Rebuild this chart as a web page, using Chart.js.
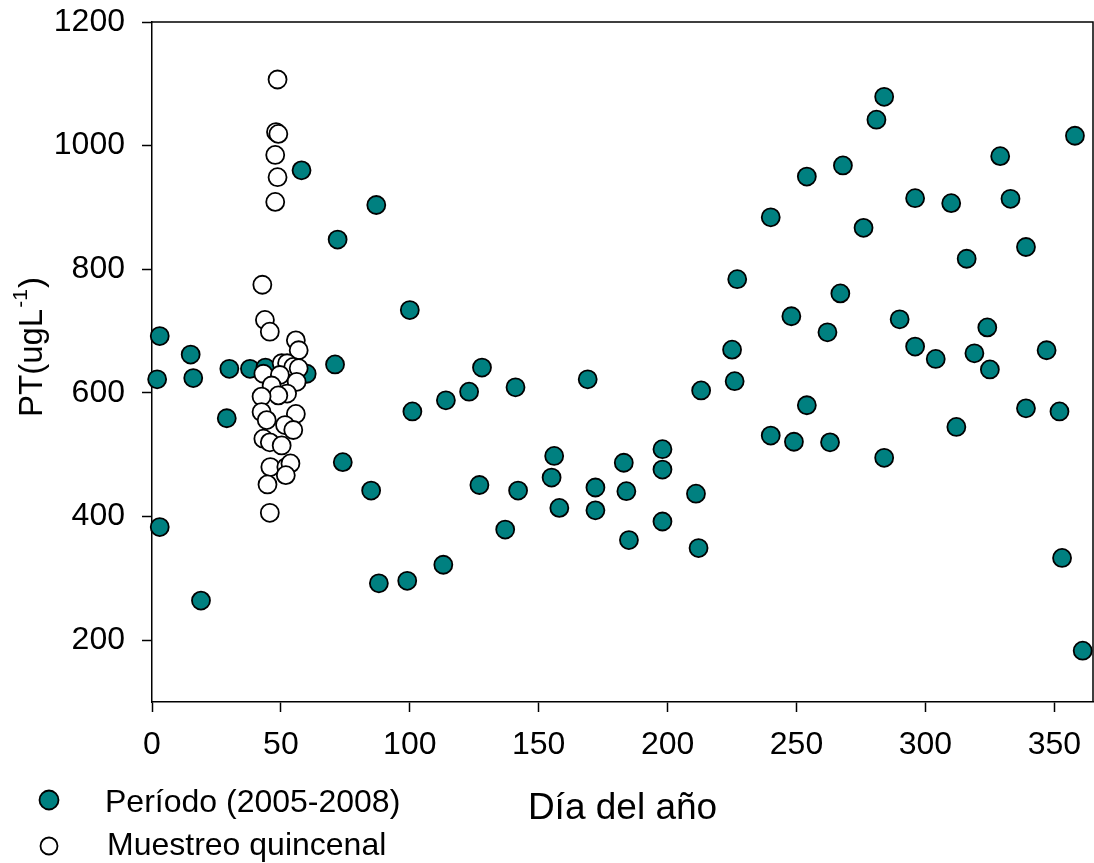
<!DOCTYPE html>
<html>
<head>
<meta charset="utf-8">
<script src="https://cdn.jsdelivr.net/npm/chart.js@4.4.0/dist/chart.umd.min.js"></script>
<style>
  html, body { margin: 0; padding: 0; background: #ffffff; }
  #wrap { width: 1094px; height: 863px; position: relative; }
</style>
</head>
<body>
<div id="wrap"><canvas id="c" width="1094" height="863"></canvas></div>
<script>
// ---- Data ----
const periodoDay = [2, 3, 3, 15, 16, 19, 29, 30, 38, 44, 58, 60, 71, 72, 74, 85, 87, 88, 99, 100,
  101, 113, 114, 123, 127, 128, 137, 141, 142, 155, 156, 158, 169, 172, 172, 183, 184, 185, 198, 198,
  198, 211, 212, 213, 225, 226, 227, 240, 240, 248, 249, 254, 254, 262, 263, 267, 268, 276, 281, 284,
  284, 290, 296, 296, 304, 310, 312, 316, 319, 324, 325, 329, 333, 339, 339, 347, 352, 353, 358, 361];
const periodoPT = [622, 692, 383, 662, 624, 264, 559, 639, 639, 641, 960, 631, 646, 848, 488, 442, 904, 292, 296, 734,
  570, 322, 588, 602, 451, 641, 379, 609, 442, 463, 498, 414, 622, 447, 410, 487, 441, 362, 509, 476,
  392, 437, 349, 604, 670, 619, 784, 884, 531, 724, 521, 950, 580, 698, 520, 761, 968, 867, 1042, 1079,
  495, 719, 915, 675, 655, 907, 545, 817, 664, 706, 638, 983, 914, 836, 575, 669, 570, 333, 1016, 183];

const quincenalDay = [48.7, 48.1, 49, 47.8, 48.7, 47.8, 42.8, 43.8, 45.7, 55.8, 56.9, 50.3, 52.4, 54.8, 56.9,
  43.2, 49.6, 46.4, 56.1, 52.4, 49, 42.5, 42.5, 55.8, 44.5, 51.6, 54.8, 43.2, 45.7, 50.3, 45.9, 52.1, 53.7,
  51.9, 44.8, 45.7];
const quincenalPT = [1107, 1022, 1019, 985, 949, 909, 775, 718, 699, 685, 669, 648, 648, 642, 640,
  631, 629, 612, 618, 599, 596, 594, 569, 566, 556, 548, 540, 526, 520, 515, 480, 480, 486,
  467, 452, 406];

const xTicks = [0, 50, 100, 150, 200, 250, 300, 350];
const yTicks = [200, 400, 600, 800, 1000, 1200];

const seriesNames = ['Período (2005-2008)', 'Muestreo quincenal'];
const xTitle = 'Día del año';
const yTitleMain = 'PT(ugL';
const yTitleSup = '-1';
const yTitleEnd = ')';

// ---- Styling ----
const FONT = '"Liberation Sans", Arial, Helvetica, sans-serif';
const TEAL = '#008080';

const toPoints = (xs, ys) => xs.map((x, i) => ({ x: x, y: ys[i] }));

// Frame (top and right border lines)
const framePlugin = {
  id: 'frame',
  afterDatasetsDraw(chart) {
    const { ctx, chartArea: a } = chart;
    ctx.save();
    ctx.strokeStyle = '#000';
    ctx.lineWidth = 1.5;
    ctx.beginPath();
    ctx.moveTo(a.left, a.top);
    ctx.lineTo(a.right, a.top);
    ctx.lineTo(a.right, a.bottom);
    ctx.stroke();
    ctx.restore();
  }
};

// Y axis title with superscript
const yTitlePlugin = {
  id: 'ytitle',
  afterDraw(chart) {
    const ctx = chart.ctx;
    ctx.save();
    ctx.translate(42, 417);
    ctx.rotate(-Math.PI / 2);
    ctx.fillStyle = '#000';
    ctx.textAlign = 'left';
    ctx.textBaseline = 'alphabetic';
    ctx.font = '33px ' + FONT;
    ctx.fillText(yTitleMain, 0, 0);
    const w1 = ctx.measureText(yTitleMain).width;
    ctx.font = '21px ' + FONT;
    ctx.fillText(yTitleSup, w1 + 1, -15);
    const w2 = ctx.measureText(yTitleSup).width;
    ctx.font = '33px ' + FONT;
    ctx.fillText(yTitleEnd, w1 + w2 + 2, 0);
    ctx.restore();
  }
};

// Custom legend in lower-left corner
const legendPlugin = {
  id: 'customLegend',
  afterDraw(chart) {
    const ctx = chart.ctx;
    const items = [
      { ds: chart.data.datasets[0], cx: 49, cy: 800, r: 9.5, tx: 105, ty: 812 },
      { ds: chart.data.datasets[1], cx: 49, cy: 846, r: 8.5, tx: 107, ty: 855 }
    ];
    ctx.save();
    items.forEach(it => {
      ctx.beginPath();
      ctx.arc(it.cx, it.cy, it.r, 0, Math.PI * 2);
      ctx.fillStyle = it.ds.backgroundColor;
      ctx.fill();
      ctx.lineWidth = it.ds.borderWidth;
      ctx.strokeStyle = it.ds.borderColor;
      ctx.stroke();
      ctx.fillStyle = '#000';
      ctx.font = '32px ' + FONT;
      ctx.textAlign = 'left';
      ctx.textBaseline = 'alphabetic';
      ctx.fillText(it.ds.label, it.tx, it.ty);
    });
    ctx.restore();
  }
};

const zeroPad = s => { s.paddingTop = 0; s.paddingBottom = 0; s.paddingLeft = 0; s.paddingRight = 0; };

new Chart(document.getElementById('c'), {
  type: 'scatter',
  data: {
    datasets: [
      {
        label: seriesNames[0],
        data: toPoints(periodoDay, periodoPT),
        backgroundColor: TEAL,
        borderColor: '#000',
        borderWidth: 1.8,
        pointRadius: 9,
        pointHoverRadius: 9,
        clip: false,
        order: 2
      },
      {
        label: seriesNames[1],
        data: toPoints(quincenalDay, quincenalPT),
        backgroundColor: '#ffffff',
        borderColor: '#000',
        borderWidth: 1.8,
        pointRadius: 9,
        pointHoverRadius: 9,
        clip: false,
        order: 1
      }
    ]
  },
  options: {
    responsive: false,
    animation: false,
    events: [],
    layout: { autoPadding: false, padding: { top: 22, right: 1, bottom: 0, left: 0 } },
    plugins: {
      legend: { display: false },
      tooltip: { enabled: false },
      title: { display: false }
    },
    scales: {
      x: {
        type: 'linear',
        position: 'bottom',
        min: 0,
        max: 365,
        afterBuildTicks: s => { s.ticks = xTicks.map(v => ({ value: v })); },
        afterFit: s => { s.height = 161; zeroPad(s); },
        border: { display: true, color: '#000', width: 1.5 },
        grid: { display: true, drawOnChartArea: false, drawTicks: true, tickLength: 10, tickColor: '#000', tickWidth: 1.5 },
        ticks: { color: '#000', font: { family: FONT, size: 32 }, padding: 14, maxRotation: 0, autoSkip: false, callback: v => String(v) },
        title: { display: true, text: xTitle, color: '#000', font: { family: FONT, size: 37 }, padding: { top: 0, bottom: 32 } }
      },
      y: {
        type: 'linear',
        position: 'left',
        min: 100,
        max: 1200,
        afterBuildTicks: s => { s.ticks = yTicks.map(v => ({ value: v })); },
        afterFit: s => { s.width = 152; zeroPad(s); },
        border: { display: true, color: '#000', width: 1.5 },
        grid: { display: true, drawOnChartArea: false, drawTicks: true, tickLength: 10, tickColor: '#000', tickWidth: 1.5 },
        ticks: { color: '#000', font: { family: FONT, size: 32 }, padding: 17, autoSkip: false, callback: v => String(v) },
        title: { display: false }
      }
    }
  },
  plugins: [framePlugin, yTitlePlugin, legendPlugin]
});
</script>
</body>
</html>
